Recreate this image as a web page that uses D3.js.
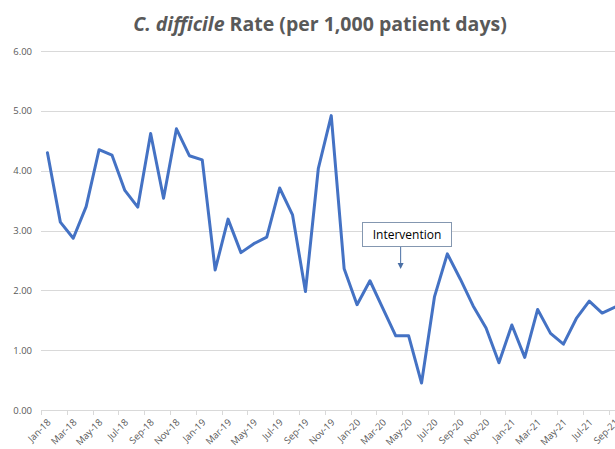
<!DOCTYPE html>
<html>
<head>
<meta charset="utf-8">
<script src="https://cdn.jsdelivr.net/npm/d3@7"></script>
<style>
  html, body { margin: 0; padding: 0; background: #fff; overflow: hidden; }
  svg { display: block; }
</style>
</head>
<body>
<svg id="chart" width="615" height="449"></svg>
<script>
const months = [
  "Jan-18","Feb-18","Mar-18","Apr-18","May-18","Jun-18","Jul-18","Aug-18","Sep-18","Oct-18","Nov-18","Dec-18",
  "Jan-19","Feb-19","Mar-19","Apr-19","May-19","Jun-19","Jul-19","Aug-19","Sep-19","Oct-19","Nov-19","Dec-19",
  "Jan-20","Feb-20","Mar-20","Apr-20","May-20","Jun-20","Jul-20","Aug-20","Sep-20","Oct-20","Nov-20","Dec-20",
  "Jan-21","Feb-21","Mar-21","Apr-21","May-21","Jun-21","Jul-21","Aug-21","Sep-21"
];
const rates = [
  4.30, 3.14, 2.87, 3.40, 4.35, 4.26, 3.67, 3.39, 4.62, 3.54, 4.70, 4.25,
  4.18, 2.34, 3.19, 2.63, 2.78, 2.89, 3.71, 3.26, 1.98, 4.04, 4.92, 2.36,
  1.76, 2.16, 1.70, 1.24, 1.24, 0.45, 1.89, 2.61, 2.19, 1.74, 1.37, 0.79,
  1.42, 0.88, 1.68, 1.28, 1.10, 1.53, 1.82, 1.62, 1.72
];
const yTicks = [0, 1, 2, 3, 4, 5, 6];
const titleItalic = "C. difficile";
const titleRest = " Rate (per 1,000 patient days)";
const annotationText = "Intervention";
const annotationMonth = "May-20";

const svg = d3.select("#chart");
const left = 41, step = 12.9;
const x = d3.scaleBand().domain(months).range([left, left + months.length * step]).padding(0);
const y = d3.scaleLinear().domain([0, 6]).range([410, 51]);
const cx = d => x(d) + x.bandwidth() / 2;
const font = "'Open Sans', 'Liberation Sans', sans-serif";

// gridlines
svg.append("g").selectAll("line").data(yTicks.filter(t => t > 0)).join("line")
  .attr("x1", left).attr("x2", 615 + 20)
  .attr("y1", d => Math.round(y(d)) + 0.5).attr("y2", d => Math.round(y(d)) + 0.5)
  .attr("stroke", "#d9d9d9").attr("stroke-width", 1);

// y labels
svg.append("g").selectAll("text").data(yTicks).join("text")
  .attr("x", 32).attr("y", d => y(d) + 3.5)
  .attr("text-anchor", "end")
  .attr("font-family", font).attr("font-size", 9.5).attr("fill", "#595959")
  .text(d => d.toFixed(2));

// x axis
const xAxis = d3.axisBottom(x)
  .tickValues(months.filter((m, i) => i % 2 === 0))
  .tickSize(0).tickFormat(d => d);
const gx = svg.append("g").attr("transform", "translate(0,410)").call(xAxis);
gx.select(".domain").attr("stroke", "#d9d9d9").attr("d", `M${left},0.5H${615 + 20}`);
gx.selectAll("text")
  .attr("font-family", font).attr("font-size", 9.5).attr("fill", "#595959")
  .attr("text-anchor", "end")
  .attr("dy", null).attr("y", 0)
  .attr("transform", "translate(4,13) rotate(-45)");
// tick marks at category boundaries every 2 months
svg.append("g").selectAll("line").data(months.filter((m, i) => i % 2 === 0)).join("line")
  .attr("x1", d => Math.round(x(d)) + 0.5).attr("x2", d => Math.round(x(d)) + 0.5)
  .attr("y1", 410).attr("y2", 415)
  .attr("stroke", "#d9d9d9");

// line
const line = d3.line().x((d, i) => cx(months[i])).y(d => y(d));
svg.append("path").datum(rates)
  .attr("d", line)
  .attr("fill", "none").attr("stroke", "#4472C4").attr("stroke-width", 3)
  .attr("stroke-linejoin", "round").attr("stroke-linecap", "round");

// annotation
const ax = cx(annotationMonth) - 8;
const ann = svg.append("g");
ann.append("rect").attr("x", 362.5).attr("y", 222.5).attr("width", 89).attr("height", 24)
  .attr("fill", "#fff").attr("stroke", "#8497b0").attr("stroke-width", 1);
ann.append("text").attr("x", 407).attr("y", 239)
  .attr("text-anchor", "middle").attr("font-family", font).attr("font-size", 12).attr("fill", "#000")
  .text(annotationText);
ann.append("line").attr("x1", ax).attr("x2", ax).attr("y1", 247).attr("y2", 264)
  .attr("stroke", "#4a6fa5").attr("stroke-width", 1);
ann.append("path").attr("d", `M${ax - 3},${263}L${ax + 3},${263}L${ax},${269}Z`).attr("fill", "#4a6fa5");

// title
const t = svg.append("text").attr("x", 320).attr("y", 31).attr("text-anchor", "middle")
  .attr("font-family", font).attr("font-weight", "bold").attr("font-size", 19.5).attr("fill", "#595959");
t.append("tspan").attr("font-style", "italic").text(titleItalic);
t.append("tspan").text(titleRest);
</script>
</body>
</html>
